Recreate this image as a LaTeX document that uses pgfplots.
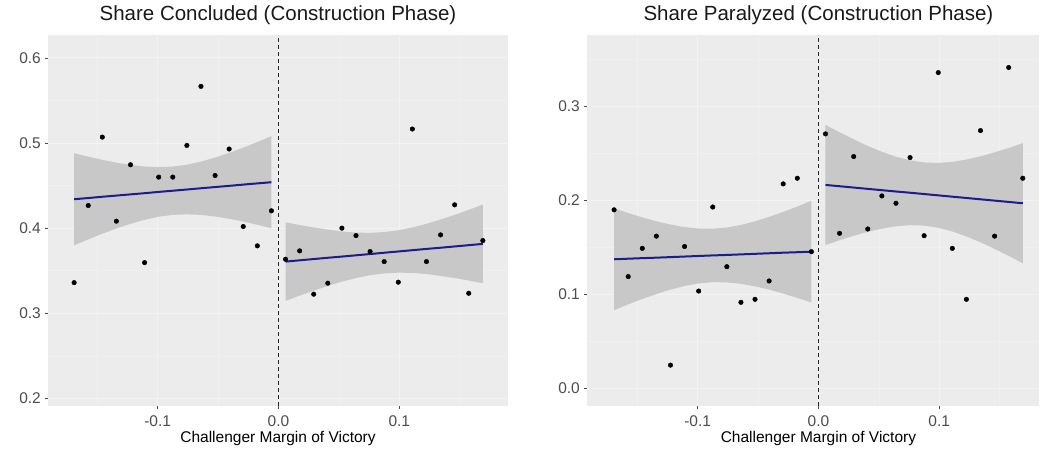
\documentclass[border=0pt]{standalone}
\usepackage{fontspec}
\setmainfont{Liberation Sans}
\usepackage{pgfplots}
\usepackage{pgfplotstable}
\pgfplotsset{compat=1.18}
\usepgfplotslibrary{fillbetween}

\definecolor{panelbg}{HTML}{ECECEC}
\definecolor{ribbon}{HTML}{C8C8C8}
\definecolor{fitblue}{RGB}{28,28,140}
\definecolor{ticktext}{HTML}{4D4D4D}

% Panel 1 (Share Concluded): binned points
\pgfplotstableread{
x y
-0.16917 0.336
-0.1575 0.4266
-0.14583 0.507
-0.13417 0.4082
-0.1225 0.4745
-0.11083 0.3595
-0.09917 0.460
-0.0875 0.460
-0.07583 0.4972
-0.06417 0.5666
-0.0525 0.4619
-0.04083 0.493
-0.02917 0.4019
-0.0175 0.3792
-0.00583 0.4204
0.00583 0.3635
0.0175 0.3733
0.02917 0.3224
0.04083 0.3353
0.0525 0.400
0.06417 0.3913
0.07583 0.3725
0.0875 0.3607
0.09917 0.3365
0.11083 0.5165
0.1225 0.3607
0.13417 0.3921
0.14583 0.4274
0.1575 0.3235
0.16917 0.3854
}\ptsA

% Panel 1 fits with confidence bands
\pgfplotstableread{
x fit lo hi
-0.16917 0.4340 0.3799 0.4881
-0.1575 0.4354 0.3868 0.4840
-0.14583 0.4369 0.3935 0.4803
-0.13417 0.4383 0.3996 0.4770
-0.1225 0.4397 0.4051 0.4743
-0.11083 0.4411 0.4098 0.4724
-0.09917 0.4426 0.4134 0.4718
-0.0875 0.4440 0.4156 0.4724
-0.07583 0.4454 0.4162 0.4746
-0.06417 0.4469 0.4156 0.4782
-0.0525 0.4483 0.4137 0.4829
-0.04083 0.4497 0.4110 0.4884
-0.02917 0.4512 0.4078 0.4946
-0.0175 0.4526 0.4040 0.5012
-0.00583 0.4540 0.3999 0.5081
}\fitAL
\pgfplotstableread{
x fit lo hi
0.00583 0.3607 0.3145 0.4069
0.0175 0.3622 0.3207 0.4037
0.02917 0.3637 0.3266 0.4008
0.04083 0.3652 0.3321 0.3983
0.0525 0.3666 0.3371 0.3961
0.06417 0.3681 0.3414 0.3948
0.07583 0.3696 0.3447 0.3945
0.0875 0.3711 0.3468 0.3954
0.09917 0.3726 0.3477 0.3975
0.11083 0.3741 0.3474 0.4008
0.1225 0.3756 0.3461 0.4051
0.13417 0.3770 0.3439 0.4101
0.14583 0.3785 0.3414 0.4156
0.1575 0.3800 0.3385 0.4215
0.16917 0.3815 0.3353 0.4277
}\fitAR

% Panel 2 (Share Paralyzed): binned points
\pgfplotstableread{
x y
-0.16917 0.190
-0.1575 0.119
-0.14583 0.149
-0.13417 0.162
-0.1225 0.0248
-0.11083 0.151
-0.09917 0.1036
-0.0875 0.193
-0.07583 0.1295
-0.06417 0.0916
-0.0525 0.0948
-0.04083 0.1143
-0.02917 0.2176
-0.0175 0.2236
-0.00583 0.1455
0.00583 0.2708
0.0175 0.165
0.02917 0.2467
0.04083 0.1696
0.0525 0.2048
0.06417 0.197
0.07583 0.2456
0.0875 0.1625
0.09917 0.336
0.11083 0.149
0.1225 0.0948
0.13417 0.2743
0.14583 0.162
0.1575 0.3414
0.16917 0.2236
}\ptsB

\pgfplotstableread{
x fit lo hi
-0.16917 0.1374 0.0833 0.1915
-0.1575 0.1380 0.0894 0.1866
-0.14583 0.1386 0.0952 0.1820
-0.13417 0.1391 0.1004 0.1778
-0.1225 0.1397 0.1051 0.1743
-0.11083 0.1403 0.1090 0.1716
-0.09917 0.1409 0.1117 0.1701
-0.0875 0.1415 0.1131 0.1699
-0.07583 0.1420 0.1128 0.1712
-0.06417 0.1426 0.1113 0.1739
-0.0525 0.1432 0.1086 0.1778
-0.04083 0.1438 0.1051 0.1825
-0.02917 0.1444 0.1010 0.1878
-0.0175 0.1449 0.0963 0.1935
-0.00583 0.1455 0.0914 0.1996
}\fitBL
\pgfplotstableread{
x fit lo hi
0.00583 0.2165 0.1526 0.2804
0.0175 0.2151 0.1577 0.2725
0.02917 0.2137 0.1624 0.2650
0.04083 0.2123 0.1666 0.2580
0.0525 0.2109 0.1700 0.2518
0.06417 0.2095 0.1725 0.2465
0.07583 0.2082 0.1737 0.2427
0.0875 0.2068 0.1732 0.2404
0.09917 0.2054 0.1709 0.2399
0.11083 0.2040 0.1670 0.2410
0.1225 0.2026 0.1617 0.2435
0.13417 0.2012 0.1555 0.2469
0.14583 0.1998 0.1485 0.2511
0.1575 0.1984 0.1410 0.2558
0.16917 0.1970 0.1331 0.2609
}\fitBR

\pgfplotsset{
  ggstyle/.style={
    scale only axis,
    anchor=south west,
    axis background/.style={fill=panelbg},
    axis x line*=bottom, axis y line*=left,
    axis line style={draw=none},
    tick align=outside,
    major tick length=3pt,
    minor tick length=0pt,
    tick style={color=ticktext, line width=0.6pt},
    grid=both,
    major grid style={color=white!35!panelbg, line width=1pt},
    minor grid style={color=white!20!panelbg, line width=0.5pt},
    xtick={-0.1,0,0.1},
    xticklabels={{-0.1},{0.0},{0.1}},
    minor xtick={-0.15,-0.05,0.05,0.15},
    ticklabel style={font=\fontsize{15.5}{17}\selectfont, text=ticktext},
    xticklabel style={anchor=base, yshift=-17.5pt, inner sep=0pt},
    yticklabel style={anchor=east, xshift=-4pt, inner sep=0pt},
    xlabel={Challenger Margin of Victory},
    xlabel style={font=\fontsize{15.5}{18}\selectfont, anchor=base, yshift=-36pt},
    title style={font=\fontsize{20.5}{24}\selectfont, text=black!90, anchor=base, yshift=8pt},
  },
  ptsstyle/.style={only marks, mark=*, mark size=2.3pt, black},
  fitstyle/.style={color=fitblue, line width=2pt},
}

\begin{document}
\begin{tikzpicture}
\path (0,0) rectangle (1041pt,450pt);

\begin{axis}[ggstyle,
  at={(48pt,44pt)}, width=460pt, height=371pt,
  xmin=-0.1908, xmax=0.1900, ymin=0.191, ymax=0.627,
  ytick={0.2,0.3,0.4,0.5,0.6},
  yticklabels={{0.2},{0.3},{0.4},{0.5},{0.6}},
  minor ytick={0.25,0.35,0.45,0.55},
  title={Share Concluded (Construction Phase)},
  title style={at={(axis description cs:0.5,1)}},
  xlabel style={at={(axis description cs:0.5,0)}},
]
\addplot[name path=al, draw=none] table[x=x,y=hi]{\fitAL};
\addplot[name path=bl, draw=none] table[x=x,y=lo]{\fitAL};
\addplot[fill=ribbon, draw=none] fill between[of=al and bl];
\addplot[name path=ar, draw=none] table[x=x,y=hi]{\fitAR};
\addplot[name path=br, draw=none] table[x=x,y=lo]{\fitAR};
\addplot[fill=ribbon, draw=none] fill between[of=ar and br];
\addplot[ptsstyle] table[x=x,y=y]{\ptsA};
\addplot[fitstyle] table[x=x,y=fit]{\fitAL};
\addplot[fitstyle] table[x=x,y=fit]{\fitAR};
\addplot[black!85, line width=0.8pt, dash pattern=on 4pt off 3pt] coordinates {(0,0.191) (0,0.627)};
\end{axis}

\begin{axis}[ggstyle,
  at={(587pt,44pt)}, width=452pt, height=371pt,
  xmin=-0.1916, xmax=0.1826, ymin=-0.0187, ymax=0.376,
  ytick={0,0.1,0.2,0.3},
  yticklabels={{0.0},{0.1},{0.2},{0.3}},
  minor ytick={0.05,0.15,0.25,0.35},
  title={Share Paralyzed (Construction Phase)},
  title style={at={(axis description cs:0.512,1)}},
  xlabel style={at={(axis description cs:0.512,0)}},
]
\addplot[name path=al, draw=none] table[x=x,y=hi]{\fitBL};
\addplot[name path=bl, draw=none] table[x=x,y=lo]{\fitBL};
\addplot[fill=ribbon, draw=none] fill between[of=al and bl];
\addplot[name path=ar, draw=none] table[x=x,y=hi]{\fitBR};
\addplot[name path=br, draw=none] table[x=x,y=lo]{\fitBR};
\addplot[fill=ribbon, draw=none] fill between[of=ar and br];
\addplot[ptsstyle] table[x=x,y=y]{\ptsB};
\addplot[fitstyle] table[x=x,y=fit]{\fitBL};
\addplot[fitstyle] table[x=x,y=fit]{\fitBR};
\addplot[black!85, line width=0.8pt, dash pattern=on 4pt off 3pt] coordinates {(0,-0.0187) (0,0.376)};
\end{axis}
\end{tikzpicture}
\end{document}
